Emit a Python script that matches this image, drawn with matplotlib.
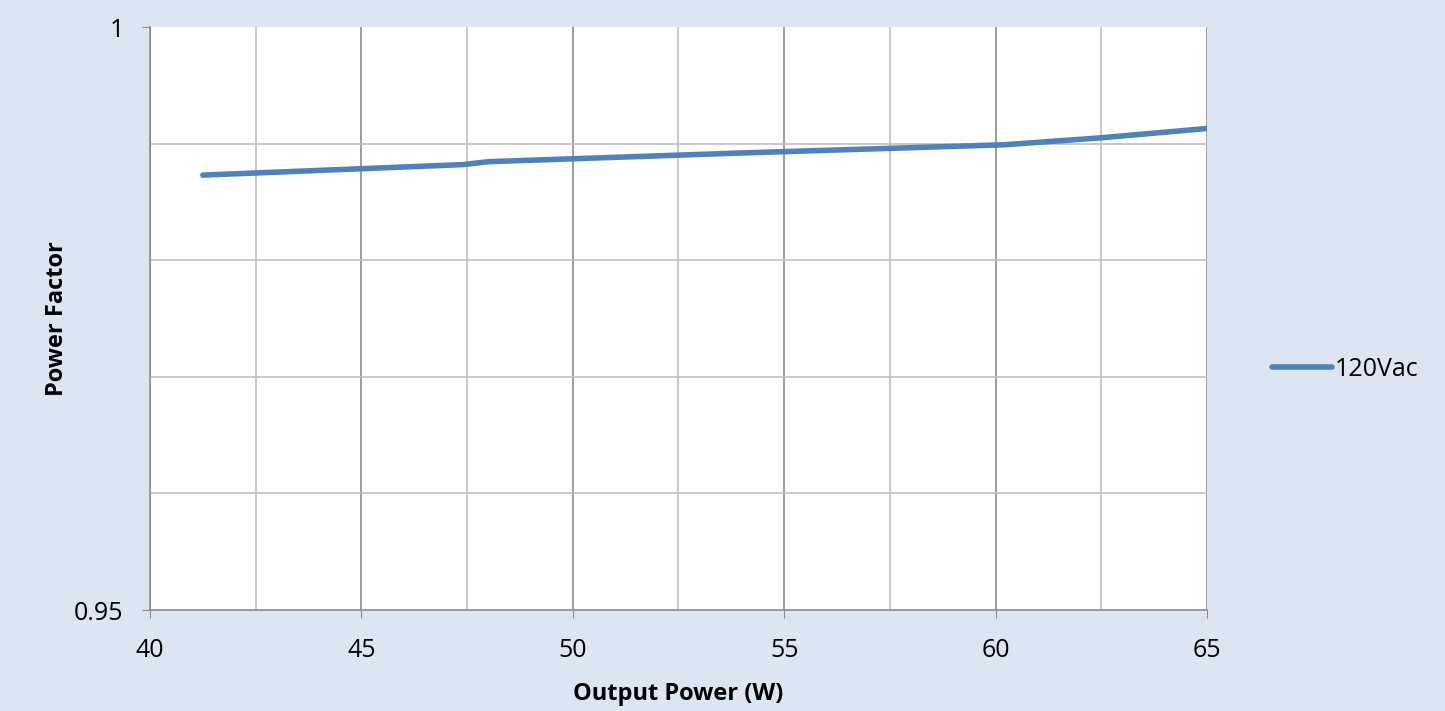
import numpy as np
import matplotlib.pyplot as plt
from matplotlib.ticker import MultipleLocator, FixedLocator

plt.rcParams['font.family'] = ['Open Sans', 'DejaVu Sans']

# 120Vac curve
power = [41.25, 47.4, 48.0, 54.0, 60.2, 62.5, 65.0]
pf = [0.9873, 0.9882, 0.98845, 0.9892, 0.9899, 0.9905, 0.9913]

bg = '#dce6f2'
fig = plt.figure(figsize=(14.45, 7.11), dpi=100, facecolor=bg)
ax = fig.add_axes([0.1038, 0.142, 0.7315, 0.820])
ax.set_facecolor('white')

ax.plot(power, pf, color='#4f81bd', lw=4.0, solid_capstyle='round', label='120Vac')

ax.set_xlim(40, 65)
ax.set_ylim(0.95, 1.0)
ax.xaxis.set_major_locator(MultipleLocator(5))
ax.xaxis.set_minor_locator(MultipleLocator(2.5))
ax.yaxis.set_major_locator(FixedLocator([0.95, 1.0]))
ax.yaxis.set_minor_locator(FixedLocator([0.96, 0.97, 0.98, 0.99]))
ax.set_yticklabels(['0.95', '1'])

ax.grid(which='major', axis='x', color='#8c8c8c', lw=1.2)
ax.grid(which='minor', axis='x', color='#c0c0c0', lw=1.2)
ax.grid(which='minor', axis='y', color='#c0c0c0', lw=1.2)
ax.set_axisbelow(True)

for s in ['top', 'right']:
    ax.spines[s].set_visible(False)
for s in ['left', 'bottom']:
    ax.spines[s].set_color('#8c8c8c')
    ax.spines[s].set_linewidth(1.2)

ax.tick_params(which='major', length=6, color='#8c8c8c', labelsize=18)
ax.tick_params(which='minor', length=0)
ax.tick_params(axis='x', pad=14)
ax.tick_params(axis='y', pad=13)

ax.set_xlabel('Output Power (W)', fontsize=17, fontweight='bold', labelpad=14)
ax.set_ylabel('Power Factor', fontsize=17, fontweight='bold', labelpad=4)

ax.legend(loc='center left', bbox_to_anchor=(1.04, 0.413), frameon=False,
          fontsize=18, handlelength=2.4, handletextpad=0.1)

plt.savefig('out.png', facecolor=bg)
